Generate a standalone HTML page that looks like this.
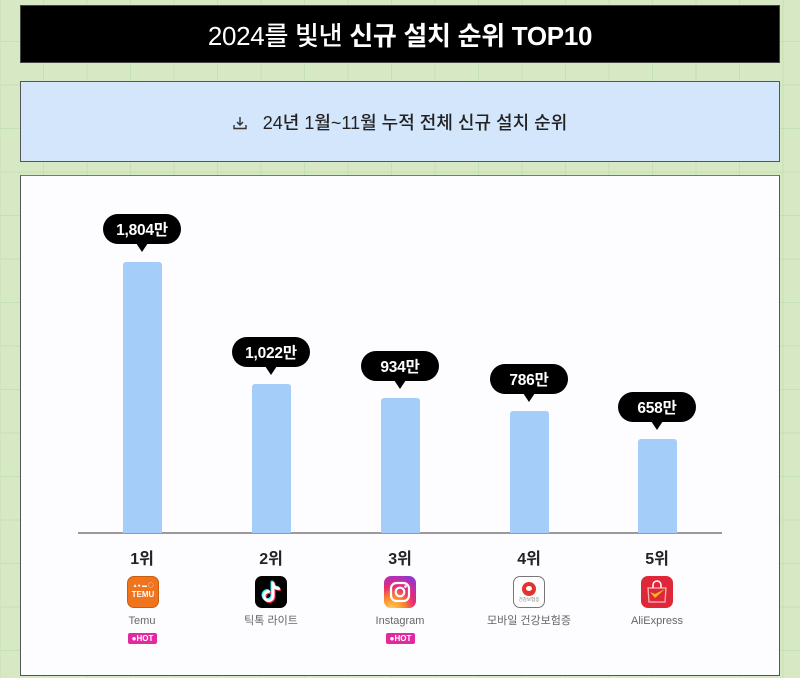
<!DOCTYPE html>
<html><head><meta charset="utf-8">
<style>
*{margin:0;padding:0;box-sizing:border-box}
html,body{width:800px;height:678px;overflow:hidden}
body{position:relative;font-family:"Liberation Sans","Noto Sans CJK KR",sans-serif;
background-color:#d6e8c4;
background-image:linear-gradient(to right,#c5e0b2 1.2px,transparent 1.2px),linear-gradient(to bottom,#c5e0b2 1.2px,transparent 1.2px);
background-size:43.5px 43.5px;background-position:43px 41px;}
.abs{position:absolute}
.title{left:20px;top:5px;width:760px;height:58px;background:#000;border:1px solid #444;color:#fff;
display:flex;align-items:center;justify-content:center;font-size:26px;font-weight:500;letter-spacing:-0.3px}
.title b{font-weight:700;margin-left:7px}
.sub{left:20px;top:81px;width:760px;height:81px;background:#d3e6fb;border:1.5px solid #555;
display:flex;align-items:center;justify-content:center;font-size:18px;color:#222;font-weight:500}
.panel{left:20px;top:175px;width:760px;height:501px;background:#fdfcfe;border:1.5px solid #555;border-top-color:#777}
.base{left:78px;top:532px;width:644px;height:1.5px;background:#9a9a9a}
.bar{background:#a4cdfa;border-radius:3px 3px 0 0;width:39px}
.bub{width:78px;height:30px;background:#000;border-radius:15px;color:#fff;font-size:15.5px;font-weight:700;
display:flex;align-items:center;justify-content:center;letter-spacing:-0.2px}
.bub:after{content:"";position:absolute;left:33px;bottom:-8px;border-left:6px solid transparent;border-right:6px solid transparent;border-top:9px solid #000}
.rank{width:80px;text-align:center;font-size:16px;font-weight:600;color:#222;top:545px}
.icon{width:32px;height:32px;top:576px;border-radius:7px;overflow:hidden}
.name{width:120px;text-align:center;font-size:11px;color:#666;top:614px;line-height:15px}
.hot{width:29px;height:11px;top:633px;background:#e22aa0;border-radius:2px;color:#fff;font-size:8px;font-weight:700;
display:flex;align-items:center;justify-content:center;line-height:1}
</style></head><body>
<div class="abs title">2024를 빛낸<b>신규 설치 순위 TOP10</b></div>
<div class="abs sub">
<svg width="14" height="14" viewBox="0 0 14 14" style="margin-right:16px;margin-top:2px"><path d="M7 1v8M4 6l3 3 3-3M1 9v3.5h12V9" fill="none" stroke="#333" stroke-width="1.4"/></svg>
24년 1월~11월 누적 전체 신규 설치 순위</div>
<div class="abs panel"></div>
<div class="abs base"></div>

<!-- bars -->
<div class="abs bar" style="left:123px;top:262px;height:271px"></div>
<div class="abs bar" style="left:252px;top:384px;height:149px"></div>
<div class="abs bar" style="left:381px;top:398px;height:135px"></div>
<div class="abs bar" style="left:510px;top:411px;height:122px"></div>
<div class="abs bar" style="left:638px;top:439px;height:94px"></div>

<!-- bubbles -->
<div class="abs bub" style="left:103px;top:214px">1,804만</div>
<div class="abs bub" style="left:232px;top:337px">1,022만</div>
<div class="abs bub" style="left:361px;top:351px">934만</div>
<div class="abs bub" style="left:490px;top:364px">786만</div>
<div class="abs bub" style="left:618px;top:392px">658만</div>

<!-- ranks -->
<div class="abs rank" style="left:102px">1위</div>
<div class="abs rank" style="left:231px">2위</div>
<div class="abs rank" style="left:360px">3위</div>
<div class="abs rank" style="left:489px">4위</div>
<div class="abs rank" style="left:617px">5위</div>

<!-- icons -->
<div class="abs icon" style="left:127px;background:#f0741c;border:1px solid #c85d10">
<div style="position:absolute;left:0;top:7px;width:30px;text-align:center;color:#fff;font-size:5px;font-weight:700;line-height:1">&#9650;&#9679; &#9644; &#9711;</div>
<div style="position:absolute;left:0;top:14px;width:30px;text-align:center;color:#fff;font-size:8px;font-weight:700;line-height:1">TEMU</div>
</div>
<div class="abs icon" style="left:255px;background:#000">
<svg width="32" height="32" viewBox="0 0 32 32"><g fill="none" stroke-width="3" stroke-linecap="round">
<path d="M18 7v13a4.5 4.5 0 1 1-4.5-4.5M18 8c1 3 3 4.5 5.5 4.5" stroke="#25f4ee" transform="translate(-1,-1)"/>
<path d="M18 7v13a4.5 4.5 0 1 1-4.5-4.5M18 8c1 3 3 4.5 5.5 4.5" stroke="#fe2c55" transform="translate(1,1)"/>
<path d="M18 7v13a4.5 4.5 0 1 1-4.5-4.5M18 8c1 3 3 4.5 5.5 4.5" stroke="#fff"/></g></svg>
</div>
<div class="abs icon" style="left:384px;background:radial-gradient(circle at 25% 105%,#fdd35a 0%,#fd8a2a 30%,#e52e71 55%,#b22fb8 80%,#6d3fd8 100%)">
<svg width="32" height="32" viewBox="0 0 32 32"><rect x="7" y="7" width="18" height="18" rx="5.5" fill="none" stroke="#fff" stroke-width="2.2"/><circle cx="16" cy="16" r="4.3" fill="none" stroke="#fff" stroke-width="2.2"/><circle cx="21.5" cy="10.5" r="1.3" fill="#fff"/></svg>
</div>
<div class="abs icon" style="left:513px;background:#fff;border:1px solid #777">
<div style="position:absolute;left:8px;top:5px;width:14px;height:14px;border-radius:50%;background:#e2332d"></div>
<div style="position:absolute;left:12px;top:9px;width:6px;height:5px;border-radius:50%;background:#fff"></div>
<div style="position:absolute;left:0;top:21px;width:30px;text-align:center;color:#777;font-size:4.5px;line-height:1">건강보험증</div>
</div>
<div class="abs icon" style="left:641px;background:#e0273a">
<svg width="32" height="32" viewBox="0 0 32 32"><path d="M7 12h18l-1 14H8z" fill="none" stroke="#f6b5bd" stroke-width="1.3"/><path d="M12 12V9a4 4 0 0 1 8 0v3" fill="none" stroke="#fff" stroke-width="1.5"/><path d="M9 16l5 6 10-9-10 5z" fill="#f7b51c"/></svg>
</div>

<!-- names -->
<div class="abs name" style="left:82px">Temu</div>
<div class="abs name" style="left:211px">틱톡 라이트</div>
<div class="abs name" style="left:340px">Instagram</div>
<div class="abs name" style="left:469px">모바일 건강보험증</div>
<div class="abs name" style="left:597px">AliExpress</div>

<div class="abs hot" style="left:128px">&#9679;HOT</div>
<div class="abs hot" style="left:386px">&#9679;HOT</div>
</body></html>
